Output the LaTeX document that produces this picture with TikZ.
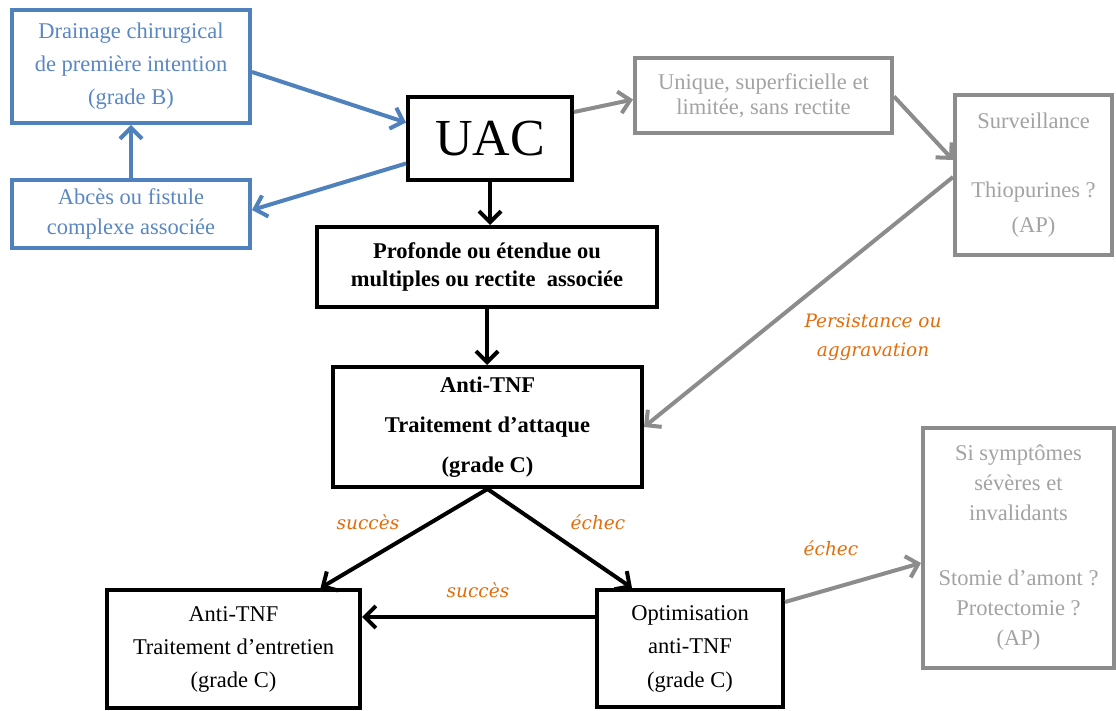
\documentclass[tikz,border=0pt]{standalone}
\usepackage{fontspec}
\setmainfont{Liberation Serif}
\newfontfamily\orfont{DejaVu Serif}
\usetikzlibrary{arrows.meta,calc}
\definecolor{bblue}{HTML}{4F81BD}
\definecolor{btext}{HTML}{5B87C2}
\definecolor{gline}{HTML}{8C8C8C}
\definecolor{gtext}{HTML}{A3A3A3}
\definecolor{orng}{HTML}{E46C0A}
\tikzset{
  box/.style={draw, line width=4pt, rectangle, align=center, inner sep=0pt},
  blackbox/.style={box, draw=black, text=black},
  bluebox/.style={box, draw=bblue, text=btext},
  graybox/.style={box, draw=gline, text=gtext},
  arr/.style={line width=4pt, line join=miter, -{Straight Barb[length=11pt,width=22pt]}},
  blarr/.style={arr, draw=black},
  bluarr/.style={arr, draw=bblue},
  grarr/.style={arr, draw=gline},
  lbl/.style={text=orng, font=\orfont\itshape\fontsize{18.5}{29}\selectfont, align=center, inner sep=0pt},
  t22/.style={font=\fontsize{22.5}{#1}\selectfont},
  tb22/.style={font=\fontsize{22.5}{#1}\selectfont\bfseries},
}
\begin{document}
\begin{tikzpicture}[x=1pt,y=-1pt]
\useasboundingbox (0,0) rectangle (1116,711);
\fill[white] (0,0) rectangle (1116,711);

% blue boxes
\node[bluebox, minimum width=238pt, minimum height=113pt, t22=33pt] (drain) at (131,66.5)
  {Drainage chirurgical\\de première intention\\(grade B)};
\node[bluebox, minimum width=238pt, minimum height=68pt, t22=30pt] (abces) at (131,214)
  {Abcès ou fistule\\complexe associée};

% black boxes
\node[blackbox, minimum width=164pt, minimum height=83pt, font=\fontsize{52}{56}\selectfont] (uac) at (490,138.5) {UAC};
\node[blackbox, minimum width=340pt, minimum height=80pt, tb22=28pt] (prof) at (487,267)
  {Profonde ou étendue ou\\multiples ou rectite\ \ associée};
\node[blackbox, minimum width=309pt, minimum height=120pt, tb22=40pt] (att) at (487.5,427)
  {Anti-TNF\\Traitement d’attaque\\(grade C)};
\node[blackbox, minimum width=253pt, minimum height=118pt, t22=33pt] (entr) at (233.5,649)
  {Anti-TNF\\Traitement d’entretien\\(grade C)};
\node[blackbox, minimum width=186pt, minimum height=117pt, t22=33.5pt] (optim) at (690,648.5)
  {Optimisation\\anti-TNF\\(grade C)};

% gray boxes
\node[graybox, minimum width=257pt, minimum height=75pt, t22=25pt] (uniq) at (763.5,95.5)
  {Unique, superficielle et\\limitée, sans rectite};
\node[graybox, minimum width=157pt, minimum height=160pt, t22=35pt] (surv) at (1033.5,175)
  {Surveillance\\[34pt]Thiopurines ?\\(AP)};
\node[graybox, minimum width=191pt, minimum height=240pt, t22=30pt] (si) at (1018.5,548)
  {Si symptômes\\sévères et\\invalidants\\[35pt]Stomie d’amont ?\\Protectomie ?\\(AP)};

% blue arrows
\draw[bluarr] ([yshift=-5.5pt]drain.east) -- ([yshift=16pt]uac.west);
\draw[bluarr] ([yshift=-25pt]uac.west) -- ([yshift=4pt]abces.east);
\draw[bluarr] (abces.north) -- (drain.south);

% gray arrows
\draw[grarr] ([yshift=26.5pt]uac.east) -- ([yshift=-4pt]uniq.west);
\draw[grarr] ([yshift=-1pt]uniq.east) -- ([yshift=15pt]surv.west);
\draw[grarr] ([yshift=-2pt]surv.west) -- (att.east);
\draw[grarr] ([yshift=46.5pt]optim.east) -- ([yshift=-15pt]si.west);

% black arrows
\draw[blarr] (uac.south) -- (uac.south |- prof.north);
\draw[blarr] (prof.south) -- (prof.south |- att.north);
\draw[blarr] (att.south) -- ([xshift=87pt]entr.north);
\draw[blarr] (att.south) -- ([xshift=-58pt]optim.north);
\draw[blarr] ([yshift=31.5pt]optim.west) coordinate (o1) -- (o1 -| entr.east);

% labels
\node[lbl] (lpers) at (873,337) {Persistance ou\\aggravation};
\node[lbl] (lsucc1) at (368,522) {succès};
\node[lbl] (lech1) at (598,522) {échec};
\node[lbl] (lsucc2) at (478,590) {succès};
\node[lbl] (lech2) at (831,548) {échec};
\end{tikzpicture}
\end{document}
